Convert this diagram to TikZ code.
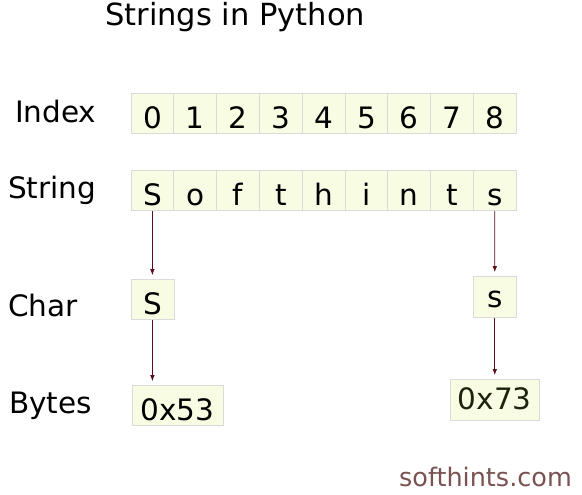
\documentclass[tikz,border=0pt]{standalone}
\usepackage{fontspec}
\setmainfont{DejaVu Sans}
\usetikzlibrary{arrows.meta}
\definecolor{cellfill}{HTML}{F8FCE2}
\definecolor{cellline}{HTML}{DADADA}
\definecolor{arrowred}{HTML}{5A0F1A}
\definecolor{sitebrown}{HTML}{7A5252}
\definecolor{darkgreen}{HTML}{1C2410}

\begin{document}
\begin{tikzpicture}[x=1pt, y=-1pt,
                    cell/.style={draw=cellline,fill=cellfill,line width=0.8pt,inner sep=0pt,
                                 minimum width=42.8pt,text height=35pt,text depth=5pt,
                                 anchor=south,font=\fontsize{29.5}{34}\selectfont},
                    label node/.style={anchor=base west,inner sep=0pt,font=\fontsize{29.5}{34}\selectfont},
                    arrow/.style={draw=arrowred,line width=0.8pt,-{Latex[length=6pt,width=4.5pt]},shorten >=4pt}]

  \useasboundingbox (0,0) rectangle (582,495);

  \node[anchor=base west,inner sep=0pt,font=\fontsize{30.5}{36}\selectfont] (title) at (105,26) {Strings in Python};

  \node[label node] (index) at (15,123) {Index};
  \node[label node] (string) at (8,198) {String};
  \node[label node] (char) at (8,316) {Char};
  \node[label node] (bytes) at (9,413) {Bytes};

  % index and string rows
  \foreach \i/\c in {0/S,1/o,2/f,3/t,4/h,5/i,6/n,7/t,8/s} {
    \node[cell] (i\i) at (152.4+42.8*\i,134) {\i};
    \node[cell] (s\i) at (152.4+42.8*\i,211) {\c};
  }

  \node[cell,minimum width=43pt] (c0) at (152.4,320) {S};
  \node[cell,minimum width=43pt,text height=31pt,text depth=10pt] (c8) at (494.8,318) {s};
  \node[cell,minimum width=91pt] (b0) at (177.5,426) {0x53};
  \node[cell,minimum width=89pt,text height=30pt,text depth=11pt,text=darkgreen] (b8) at (494.8,421) {0x73};

  \node[anchor=base east,inner sep=0pt,text=sitebrown,font=\fontsize{25.5}{30}\selectfont] (site) at (572,486) {softhints.com};

  \draw[arrow] (s0) -- (c0);
  \draw[arrow] (s8) -- (c8);
  \draw[arrow] (c0.south) -- (c0.south |- b0.north);
  \draw[arrow] (c8) -- (b8);

\end{tikzpicture}
\end{document}
